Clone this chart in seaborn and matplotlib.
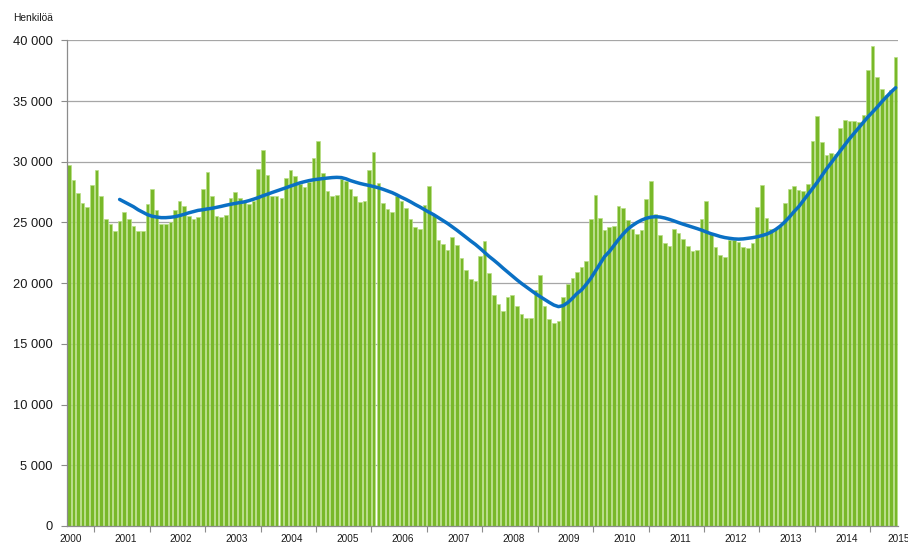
import matplotlib
matplotlib.use("Agg")
import matplotlib.pyplot as plt
from matplotlib.ticker import FuncFormatter, FixedLocator
import seaborn as sns
import pandas as pd
import numpy as np

# Monthly values, Jan 2000 - Dec 2014 (persons)
y2000 = [29700, 28500, 27450, 26600, 26300, 28100, 29300, 27150, 25250, 24900, 24300, 25100]
y2001 = [25850, 25300, 24700, 24300, 24300, 26500, 27800, 26000, 24900, 24900, 25050, 26000]
y2002 = [26750, 26350, 25550, 25250, 25450, 27750, 29150, 27200, 25550, 25450, 25600, 27000]
y2003 = [27500, 27000, 26800, 26500, 26750, 29400, 30950, 28900, 27200, 27150, 27000, 28700]
y2004 = [29350, 28800, 28150, 27900, 28350, 30300, 31700, 29050, 27600, 27150, 27300, 28550]
y2005 = [28450, 27750, 27150, 26700, 26800, 29300, 30800, 28250, 26600, 26100, 25900, 27150]
y2006 = [26800, 26200, 25250, 24650, 24500, 26450, 28000, 25600, 23550, 23200, 22750, 23800]
y2007 = [23150, 22050, 21100, 20350, 20200, 22200, 23500, 20800, 19050, 18300, 17750, 18900]
y2008 = [19050, 18100, 17450, 17100, 17100, 19450, 20700, 18150, 17050, 16750, 16850, 18900]
y2009 = [19900, 20400, 20950, 21300, 21850, 25300, 27300, 25400, 24400, 24650, 24750, 26400]
y2010 = [26200, 25200, 24500, 24050, 24350, 26950, 28450, 25700, 24000, 23350, 23050, 24450]
y2011 = [24150, 23600, 23050, 22650, 22750, 25300, 26750, 24150, 22950, 22300, 22150, 23550]
y2012 = [23550, 23400, 22980, 22930, 23350, 26300, 28100, 25350, 24500, 24500, 24750, 26600]
y2013 = [27800, 28000, 27700, 27600, 28200, 31700, 33750, 31600, 30600, 30700, 30650, 32800]
y2014 = [33450, 33400, 33400, 33300, 33850, 37550, 39500, 37000, 36000, 35500, 35950, 38600]

monthly = (y2000 + y2001 + y2002 + y2003 + y2004 + y2005 + y2006 + y2007
           + y2008 + y2009 + y2010 + y2011 + y2012 + y2013 + y2014)

# Trend line (thousands), Dec 2000 - Jan 2015
trend_start = 11
trend_k = [
    26.9, 26.7, 26.5, 26.3, 26.05, 25.85, 25.65, 25.52, 25.45, 25.4, 25.4, 25.43,
    25.48, 25.57, 25.68, 25.8, 25.9, 26.0, 26.05, 26.12, 26.17, 26.25, 26.33, 26.42,
    26.5, 26.57, 26.64, 26.7, 26.8, 26.92, 27.05, 27.2, 27.33, 27.47, 27.6, 27.73,
    27.86, 28.0, 28.13, 28.26, 28.36, 28.45, 28.52, 28.57, 28.62, 28.66, 28.7, 28.72,
    28.7, 28.6, 28.45, 28.33, 28.22, 28.13, 28.05, 27.96, 27.86, 27.74, 27.6, 27.46,
    27.28, 27.08, 26.9, 26.7, 26.48, 26.28, 26.06, 25.84, 25.64, 25.4, 25.17, 24.92,
    24.65, 24.37, 24.08, 23.78, 23.48, 23.2, 22.88, 22.54, 22.2, 21.9, 21.58, 21.24,
    20.92, 20.6, 20.28, 19.98, 19.7, 19.42, 19.15, 18.9, 18.66, 18.42, 18.2, 18.07,
    18.15, 18.4, 18.75, 19.15, 19.45, 19.9, 20.4, 21.0, 21.6, 22.2, 22.6, 23.1,
    23.6, 24.05, 24.45, 24.75, 25.0, 25.2, 25.35, 25.44, 25.48, 25.45, 25.37, 25.26,
    25.13, 24.99, 24.86, 24.74, 24.62, 24.5, 24.37, 24.22, 24.08, 23.97, 23.85, 23.76,
    23.7, 23.65, 23.63, 23.65, 23.7, 23.75, 23.82, 23.92, 24.03, 24.2, 24.42, 24.7,
    25.05, 25.45, 25.9, 26.3, 26.8, 27.3, 27.8, 28.3, 28.85, 29.4, 29.9, 30.4,
    30.9, 31.4, 31.9, 32.35, 32.8, 33.25, 33.7, 34.1, 34.5, 34.95, 35.35, 35.75,
    36.1,
]

year_labels = [str(y) for y in range(2000, 2016)]
year_label_pos = [0.3, 12.3, 24.3, 36.3, 48.3, 60.3, 72.3, 84.3, 96.3, 108.3,
                  120.3, 132.3, 144.3, 156.3, 168.3, 179.6]
y_ticks = [0, 5000, 10000, 15000, 20000, 25000, 30000, 35000, 40000]

bars = pd.DataFrame({"idx": np.arange(len(monthly)), "value": monthly})
trend = pd.DataFrame({"idx": np.arange(trend_start, trend_start + len(trend_k)),
                      "value": np.array(trend_k) * 1000})

sns.set_style("white")
plt.rcParams["font.family"] = ["Liberation Sans", "DejaVu Sans"]

W, H = 908, 543
fig = plt.figure(figsize=(W / 100, H / 100), dpi=100)
left, right, top, bottom = 66.5, 898, 40.4, 526
ax = fig.add_axes([left / W, (H - bottom) / H, (right - left) / W, (bottom - top) / H])

sns.barplot(data=bars, x="idx", y="value", native_scale=True, ax=ax,
            color="#78b829", saturation=1, width=0.78,
            edgecolor="#b9de86", linewidth=0.5, zorder=2)
sns.lineplot(data=trend, x="idx", y="value", ax=ax, color="#0a70c4",
             linewidth=2.5, zorder=3, solid_capstyle="round")

ax.set_xlim(-0.5, len(monthly) - 0.5)
ax.set_ylim(0, 40000)
ax.set_xlabel("")
ax.set_ylabel("")

ax.set_yticks(y_ticks)
ax.yaxis.set_major_formatter(FuncFormatter(lambda v, p: f"{v:,.0f}".replace(",", " ")))
ax.tick_params(axis="y", which="major", length=4, width=0.8, color="#8c8c8c",
               pad=6, labelsize=9.3, labelcolor="#1a1a1a", left=True)
ax.grid(axis="y", color="#a6a6a6", linewidth=0.9, zorder=0)
ax.set_axisbelow(True)

# x-axis: tick marks at mid-year, year labels at January
ax.xaxis.set_major_locator(FixedLocator([12 * k + 5.5 for k in range(15)]))
ax.set_xticklabels([])
ax.tick_params(axis="x", which="major", length=4, width=0.8, color="#8c8c8c", bottom=True)
for pos, lab in zip(year_label_pos, year_labels):
    ax.text(pos, -0.016, lab, transform=ax.get_xaxis_transform(),
            ha="center", va="top", fontsize=7.2, color="#1a1a1a", clip_on=False)

for s in ["top", "right"]:
    ax.spines[s].set_visible(False)
for s in ["left", "bottom"]:
    ax.spines[s].set_color("#8c8c8c")
    ax.spines[s].set_linewidth(0.9)

fig.text(12.7 / W, 1 - 18 / H, "Henkilöä", ha="left", va="center",
         fontsize=7.4, color="#1a1a1a")

fig.savefig("out.png", dpi=100)
